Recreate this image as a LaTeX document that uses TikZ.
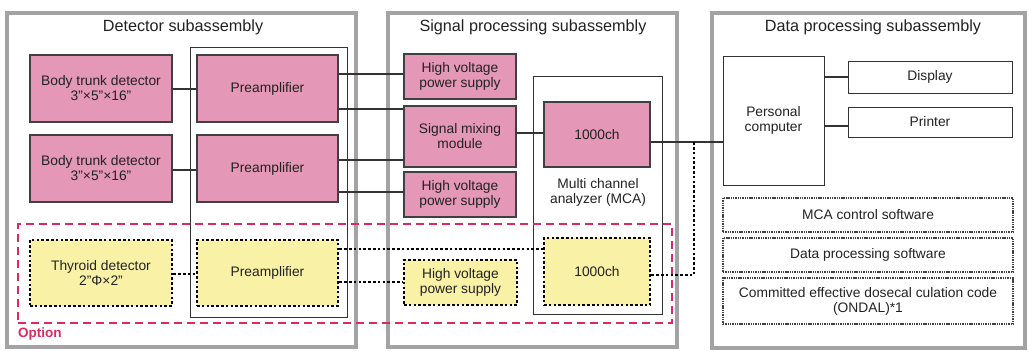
\documentclass[tikz,border=0pt]{standalone}
\usepackage{fontspec}
\setmainfont{Liberation Sans}
\usetikzlibrary{calc}
\definecolor{pinkfill}{HTML}{E497B6}
\definecolor{yelfill}{HTML}{F9F1A6}
\definecolor{framegray}{HTML}{A3A3A3}
\definecolor{optred}{HTML}{DD2A5E}
\definecolor{txt}{HTML}{222222}
\tikzset{
  x=1pt, y=-1pt,
  boxtext/.style={font=\fontsize{13.8}{15}\selectfont, text=txt, align=center, inner sep=0pt},
  pinkbox/.style={boxtext, draw=black!75, line width=1.2pt, fill=pinkfill},
  yelbox/.style={boxtext, draw=black, line width=2.7pt, dash pattern=on 2.6pt off 2.2pt, fill=yelfill},
  plainbox/.style={boxtext, draw=black!80, line width=1pt, fill=white},
  swbox/.style={boxtext, draw=black!75, line width=2.2pt, dash pattern=on 1.4pt off 0.9pt},
  frame/.style={draw=framegray, line width=3.5pt},
  title/.style={font=\fontsize{16.2}{18}\selectfont, text=txt, inner sep=0pt},
  wire/.style={draw=black!80, line width=1.1pt},
  dotwire/.style={draw=black, line width=2.7pt, dash pattern=on 2.6pt off 2.2pt},
  optframe/.style={draw=optred, line width=2.6pt, dash pattern=on 8pt off 5pt},
}
\begin{document}
\begin{tikzpicture}
\useasboundingbox (0,0) rectangle (1029,351);
% outer frames
\node[frame, minimum width=349, minimum height=334, inner sep=0pt] (det) at (181.5,180) {};
\node[frame, minimum width=289, minimum height=334, inner sep=0pt] (sig) at (532.5,180) {};
\node[frame, minimum width=313, minimum height=335, inner sep=0pt] (dat) at (868.5,180.5) {};
\node[title] (dett) at (183,27) {Detector subassembly};
\node[title] (sigt) at (533,27) {Signal processing subassembly};
\node[title] (datt) at (873,27) {Data processing subassembly};

% containers
\node[draw=black!80, line width=1pt, minimum width=157, minimum height=270, inner sep=0pt] (pcont) at (268.5,182) {};
\node[draw=black!80, line width=1pt, minimum width=129, minimum height=238, inner sep=0pt] (mca) at (597.5,195) {};
\node[boxtext] (mcat) at (598,192) {Multi channel\\analyzer (MCA)};

% detector nodes
\node[pinkbox, minimum width=142, minimum height=67] (body1) at (101,88.5) {Body trunk detector\\3"×5"×16"};
\node[pinkbox, minimum width=142, minimum height=67] (body2) at (101,168.5) {Body trunk detector\\3"×5"×16"};
\node[pinkbox, minimum width=141, minimum height=67] (pre1) at (267.5,88.5) {Preamplifier};
\node[pinkbox, minimum width=141, minimum height=67] (pre2) at (267.5,168.5) {Preamplifier};
\node[yelbox, minimum width=142, minimum height=66] (thy) at (101,273) {Thyroid detector\\2"Φ×2"};
\node[yelbox, minimum width=141, minimum height=66] (prey) at (267.5,273) {Preamplifier};

% signal nodes
\node[pinkbox, minimum width=112, minimum height=45] (hv1) at (460,76.5) {High voltage\\power supply};
\node[pinkbox, minimum width=112, minimum height=61] (mix) at (460,136.5) {Signal mixing\\module};
\node[pinkbox, minimum width=112, minimum height=45] (hv2) at (460,194.5) {High voltage\\power supply};
\node[pinkbox, minimum width=106, minimum height=65] (ch1) at (597,134.5) {1000ch};
\node[yelbox, minimum width=106, minimum height=67] (ch2) at (597,271.5) {1000ch};
\node[yelbox, minimum width=113, minimum height=45] (hvy) at (460.5,282.5) {High voltage\\power supply};

% option frame
\node[optframe, minimum width=654, minimum height=99, inner sep=0pt] (opt) at (345,273.5) {};
\node[font=\bfseries\fontsize{13.5}{15}\selectfont, text=optred, anchor=west, inner sep=0pt] (optt) at (18,334) {Option};

% data nodes
\node[plainbox, minimum width=101, minimum height=129] (pc) at (773.5,120.5) {Personal\\computer};
\node[plainbox, minimum width=164, minimum height=32] (disp) at (930,77) {Display};
\node[plainbox, minimum width=164, minimum height=30] (prn) at (930,122) {Printer};
\node[swbox, minimum width=290, minimum height=34] (mcasw) at (868,215) {MCA control software};
\node[swbox, minimum width=290, minimum height=34] (datsw) at (868,255) {Data processing software};
\node[swbox, minimum width=290, minimum height=46] (ondal) at (868,301) {Committed effective dosecal culation code\\(ONDAL)*1};

% solid wires
\draw[wire] (body1.east |- 0,89) -- (pre1.west |- 0,89);
\draw[wire] (body2.east |- 0,170) -- (pre2.west |- 0,170);
\draw[wire] (pre1.east |- 0,74) -- (hv1.west |- 0,74);
\draw[wire] (pre1.east |- 0,109) -- (mix.west |- 0,109);
\draw[wire] (pre2.east |- 0,160) -- (mix.west |- 0,160);
\draw[wire] (pre2.east |- 0,192) -- (hv2.west |- 0,192);
\draw[wire] (mix.east |- 0,133) -- (ch1.west |- 0,133);
\draw[wire] (ch1.east |- 0,142) -- (pc.west |- 0,142);
\draw[wire] (pc.east |- 0,77) -- (disp.west |- 0,77);
\draw[wire] (pc.east |- 0,126) -- (prn.west |- 0,126);

% dotted wires
\coordinate (bend) at (694,275);
\draw[dotwire] (thy.east |- 0,274) -- (prey.west |- 0,274);
\draw[dotwire] (prey.east |- 0,249) -- (ch2.west |- 0,249);
\draw[dotwire] (prey.east |- 0,282) -- (hvy.west |- 0,282);
\draw[dotwire] (ch2.east |- bend) -- (bend) -- (bend |- 0,142);
\end{tikzpicture}
\end{document}
